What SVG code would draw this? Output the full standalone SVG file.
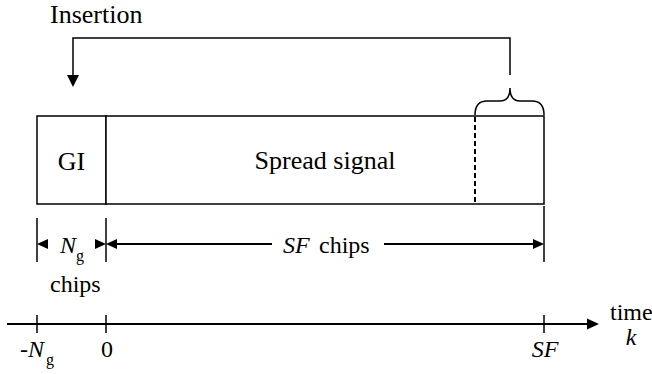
<svg xmlns="http://www.w3.org/2000/svg" width="652" height="374" viewBox="0 0 652 374">
<style>
text{font-family:"Liberation Serif","DejaVu Serif",serif;fill:#000}
.big{font-size:26px}
.lab{font-size:24px}
.sub{font-size:16px}
.it{font-style:italic}
.box{fill:#fff;stroke:#000;stroke-width:1.5}
.ln{fill:none;stroke:#000;stroke-width:2}
.thin{fill:none;stroke:#000;stroke-width:1.5}
.ah{fill:#000;stroke:none}
</style>
<rect width="652" height="374" fill="#fff"/>
<g font-family="Liberation Serif, DejaVu Serif, serif">
<text id="insertion-label" class="big" x="50" y="23">Insertion</text>
<g id="gi">
<rect class="box" x="37" y="116" width="69" height="88"/>
<text class="big" x="71.5" y="170" text-anchor="middle">GI</text>
</g>
<g id="spread">
<rect class="box" x="106" y="116" width="438" height="88"/>
<text class="big" x="325" y="169" text-anchor="middle">Spread signal</text>
<line x1="475" y1="117" x2="475" y2="203" stroke="#000" stroke-width="2" stroke-dasharray="5,3"/>
</g>
<g id="connectors">
<path class="thin" d="M475,115 Q475,101 487,101 L500,101 Q510,101 510,88 Q510,101 520,101 L532,101 Q544,101 544,115"/>
<path class="thin" d="M510,75 L510,38 L73,38 L73,76"/>
<path class="ah" d="M67,75 L79,75 L73,87 Z"/>
<line class="thin" x1="37" y1="218" x2="37" y2="262"/>
<line class="thin" x1="106" y1="218" x2="106" y2="262"/>
<line class="thin" x1="544" y1="206" x2="544" y2="262"/>
<path class="ah" d="M37,244 L48,239 L48,249 Z"/>
<path class="ah" d="M106,244 L95,239 L95,249 Z"/>
<path class="ah" d="M106,244 L117,239 L117,249 Z"/>
<line class="ln" x1="115" y1="244" x2="272" y2="244"/>
<line class="ln" x1="384" y1="244" x2="535" y2="244"/>
<path class="ah" d="M544,244 L533,239 L533,249 Z"/>
<line class="ln" x1="7" y1="324" x2="589" y2="324"/>
<path class="ah" d="M599,324 L587,318.5 L587,329.5 Z"/>
<line class="thin" x1="37" y1="315" x2="37" y2="333"/>
<line class="thin" x1="106" y1="315" x2="106" y2="333"/>
<line class="thin" x1="544" y1="315" x2="544" y2="333"/>
</g>
<g id="labels">
<text class="lab it" x="60" y="253">N</text><text class="sub" x="76" y="261">g</text>
<text class="lab" x="50" y="292">chips</text>
<text class="lab it" x="283" y="253">SF</text><text class="lab" x="319" y="253">chips</text>
<text class="lab" x="20" y="357">-<tspan class="it">N</tspan></text><text class="sub" x="46" y="365">g</text>
<text class="lab" x="107" y="357" text-anchor="middle">0</text>
<text class="lab it" x="545" y="357" text-anchor="middle">SF</text>
<text class="lab" x="610" y="320">time</text>
<text class="lab it" x="631" y="345" text-anchor="middle">k</text>
</g>
</g>
</svg>
